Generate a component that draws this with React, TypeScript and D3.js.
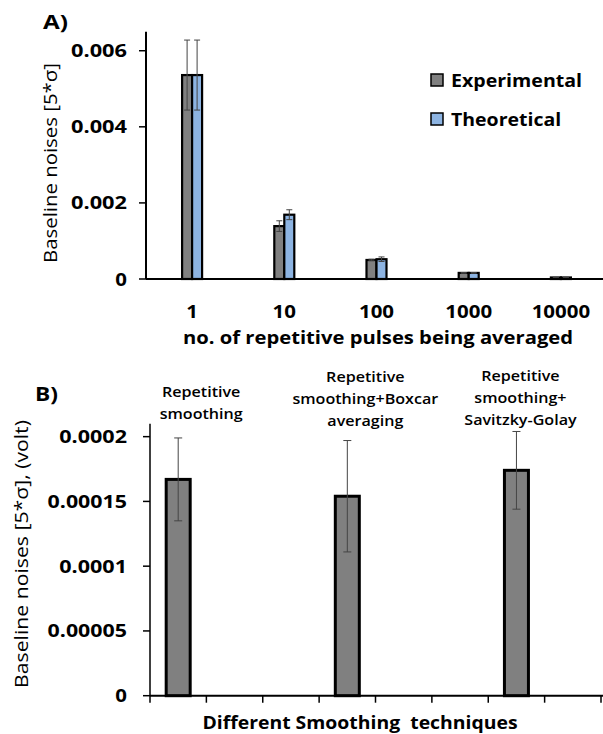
import React, { useLayoutEffect, useRef, useState } from 'react';
import * as d3 from 'd3';

// ---------- Panel A data ----------
const pulseCategories = ['1', '10', '100', '1000', '10000'];
const experimental = [0.00536, 0.00139, 0.0005, 0.00016, 0.00004];
const experimentalErr = [0.00092, 0.00014, 0.00002, 0.00001, 0.000005];
const theoretical = [0.00536, 0.00169, 0.00052, 0.00016, 0.00004];
const theoreticalErr = [0.00092, 0.00013, 0.00006, 0.00001, 0.000005];
const yTicksA = [0, 0.002, 0.004, 0.006];
const yTickLabelsA = ['0', '0.002', '0.004', '0.006'];
const seriesNames = ['Experimental', 'Theoretical'];

// ---------- Panel B data ----------
const techniqueLabels = [
  ['Repetitive', 'smoothing'],
  ['Repetitive', 'smoothing+Boxcar', 'averaging'],
  ['Repetitive', 'smoothing+', 'Savitzky-Golay'],
];
const techniqueSlot = [0, 3, 6];
const slotIds = ['0', '1', '2', '3', '4', '5', '6', '7'];
const noiseB = [0.000167, 0.000154, 0.000174];
const noiseBErr = [0.000032, 0.000043, 0.00003];
const yTicksB = [0, 0.00005, 0.0001, 0.00015, 0.0002];
const yTickLabelsB = ['0', '0.00005', '0.0001', '0.00015', '0.0002'];

const GRAY = '#808080';
const BLUE = '#8DB4E2';
const FONT = "'Open Sans', sans-serif";

// Text stretched horizontally to a target width (the source uses a narrow font at a wider aspect)
const T = ({ x, y, anchor = 'start', size = 18, weight = 700, w, rot = 0, children }: any) => {
  const ref = useRef<SVGTextElement>(null);
  const [s, setS] = useState(1.15);
  useLayoutEffect(() => {
    if (ref.current && w) {
      const len = ref.current.getComputedTextLength();
      if (len > 0) setS(w / len);
    }
  }, [w, children, size]);
  return (
    <text
      ref={ref}
      transform={`translate(${x},${y}) rotate(${rot}) scale(${s},1)`}
      textAnchor={anchor}
      fontSize={size}
      fontWeight={weight}
      fontFamily={FONT}
      fill="#000"
      style={{ whiteSpace: 'pre' }}
    >
      {children}
    </text>
  );
};

// width of a numeric tick label in the source's font
const numW = (s: string) => s.replace(/\./g, '').length * 11.7 + (s.match(/\./g) || []).length * 9.2;

export default function App() {
  // Panel A scales
  const axA = 146;
  const xA = d3.scaleBand<string>().domain(pulseCategories).range([axA, 607]);
  const yA = d3.scaleLinear().domain([0, 0.0065]).range([279, 31.7]);
  const barW = 10;

  // Panel B scales
  const axB = 150;
  const xB = d3.scaleBand<string>().domain(slotIds).range([axB, 601]);
  const yB = d3.scaleLinear().domain([0, 0.00021]).range([695.7, 423.7]);
  const barWB = 24;
  const labelOffsets = [23, 18, 4];
  const labelTop = [397, 382, 381];
  const legendW = [131, 110];

  const errBar = (cx: number, yTop: number, yBot: number, cap: number, key: string) => (
    <g key={key} stroke="#444" strokeWidth={1}>
      <line x1={cx} x2={cx} y1={yTop} y2={yBot} />
      <line x1={cx - cap / 2} x2={cx + cap / 2} y1={yTop} y2={yTop} />
      <line x1={cx - cap / 2} x2={cx + cap / 2} y1={yBot} y2={yBot} />
    </g>
  );

  return (
    <svg width={603} height={734} style={{ position: 'absolute', left: 0, top: 0, background: '#fff' }}>
      <rect width={603} height={734} fill="#fff" />
      {/* ================= Panel A ================= */}
      <T x={43} y={29} size={19} w={25}>A)</T>
      <T x={57} y={163} rot={-90} anchor="middle" size={19} weight={400} w={200}>Baseline noises [5*σ]</T>
      {/* y axis */}
      <line x1={axA} x2={axA} y1={yA.range()[1]} y2={yA(0)} stroke="#000" strokeWidth={2} />
      {yTicksA.map((t, i) => (
        <g key={'ya' + i}>
          <line x1={axA - 7} x2={axA} y1={yA(t)} y2={yA(t)} stroke="#000" strokeWidth={1.5} />
          <T x={127} y={yA(t) + 6.5} anchor="end" w={numW(yTickLabelsA[i])}>{yTickLabelsA[i]}</T>
        </g>
      ))}
      {/* bars */}
      {pulseCategories.map((c, i) => {
        const cx = xA(c)! + xA.bandwidth() / 2;
        return (
          <g key={'ba' + i}>
            <rect x={cx - barW} y={yA(experimental[i])} width={barW} height={yA(0) - yA(experimental[i])} fill={GRAY} stroke="#000" strokeWidth={2.2} />
            <rect x={cx} y={yA(theoretical[i])} width={barW} height={yA(0) - yA(theoretical[i])} fill={BLUE} stroke="#000" strokeWidth={2.2} />
            {errBar(cx - barW / 2, yA(experimental[i] + experimentalErr[i]), yA(experimental[i] - experimentalErr[i]), 6, 'ea' + i)}
            {errBar(cx + barW / 2, yA(theoretical[i] + theoreticalErr[i]), yA(theoretical[i] - theoreticalErr[i]), 6, 'ta' + i)}
          </g>
        );
      })}
      {/* x axis */}
      <line x1={axA} x2={603} y1={yA(0)} y2={yA(0)} stroke="#000" strokeWidth={2} />
      {pulseCategories.map((c, i) => (
        <T key={'xa' + i} x={xA(c)! + xA.bandwidth() / 2} y={318} anchor="middle" w={numW(c)}>{c}</T>
      ))}
      <T x={378} y={344} anchor="middle" size={17.5} w={390}>no. of repetitive pulses being averaged</T>
      {/* legend */}
      {seriesNames.map((s, i) => (
        <g key={'lg' + i}>
          <rect x={431} y={74 + i * 39} width={12} height={12} fill={i === 0 ? GRAY : BLUE} stroke="#000" strokeWidth={1.5} />
          <T x={451} y={86.5 + i * 39} w={legendW[i]}>{s}</T>
        </g>
      ))}

      {/* ================= Panel B ================= */}
      <T x={35} y={401} size={19} w={23}>B)</T>
      <T x={28} y={554} rot={-90} anchor="middle" size={19} weight={400} w={268}>Baseline noises [5*σ], (volt)</T>
      <line x1={axB} x2={axB} y1={yB.range()[1]} y2={yB(0)} stroke="#000" strokeWidth={1.5} />
      {yTicksB.map((t, i) => (
        <g key={'yb' + i}>
          <line x1={axB - 7} x2={axB} y1={yB(t)} y2={yB(t)} stroke="#000" strokeWidth={1.5} />
          <T x={127} y={yB(t) + 6.5} anchor="end" w={numW(yTickLabelsB[i])}>{yTickLabelsB[i]}</T>
        </g>
      ))}
      {noiseB.map((v, i) => {
        const slot = slotIds[techniqueSlot[i]];
        const cx = xB(slot)! + xB.bandwidth() / 2;
        return (
          <g key={'bb' + i}>
            <rect x={cx - barWB / 2} y={yB(v)} width={barWB} height={yB(0) - yB(v)} fill={GRAY} stroke="#000" strokeWidth={3} />
            {errBar(cx, yB(v + noiseBErr[i]), yB(v - noiseBErr[i]), 8, 'eb' + i)}
            {techniqueLabels[i].map((line, j) => (
              <T key={'lb' + j} x={cx + labelOffsets[i]} y={labelTop[i] + j * 22} anchor="middle" size={14} weight={600}>
                {line}
              </T>
            ))}
          </g>
        );
      })}
      <line x1={axB} x2={603} y1={yB(0)} y2={yB(0)} stroke="#000" strokeWidth={2} />
      {slotIds.concat(['end']).map((s, i) => {
        const x = i < slotIds.length ? xB(s)! : xB.range()[1];
        return <line key={'xt' + i} x1={x} x2={x} y1={yB(0)} y2={yB(0) + 7} stroke="#000" strokeWidth={1.5} />;
      })}
      <T x={360} y={729} anchor="middle" size={17.5} w={315}>Different Smoothing  techniques</T>
    </svg>
  );
}
